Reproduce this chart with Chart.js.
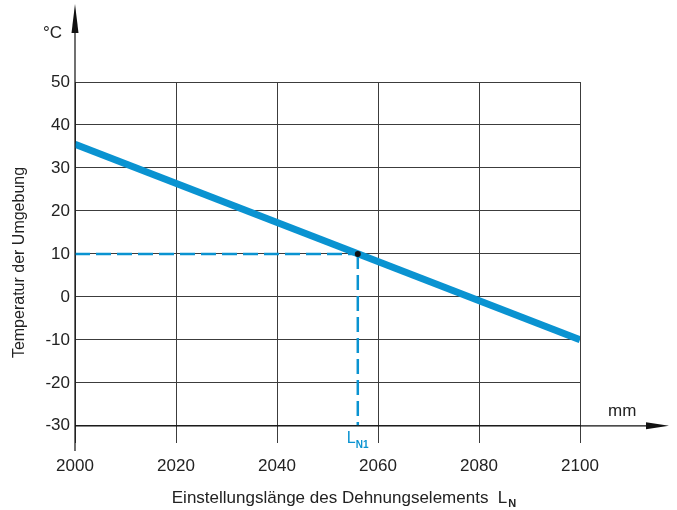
<!DOCTYPE html>
<html>
<head>
<meta charset="utf-8">
<script src="https://cdn.jsdelivr.net/npm/chart.js@4"></script>
<style>
  html, body { margin: 0; padding: 0; background: #fff; }
  #wrap { width: 677px; height: 510px; }
</style>
</head>
<body>
<div id="wrap"><canvas id="myChart" width="677" height="510"></canvas></div>
<script>
// values
const lengths = [2000, 2100];          // mm
const temps = [35.5, -10];             // °C
const markLength = 2056;
const markTemp = 10;
const xTicks = [2000, 2020, 2040, 2060, 2080, 2100];
const yTicks = [-30, -20, -10, 0, 10, 20, 30, 40, 50];
const yMin = -34, yMax = 50;

const blue = '#0a93d1';
const gridColor = '#3c3c3c';
const font = '"Liberation Sans", Arial, sans-serif';

// arrows, extra labels, subscript title
const extras = {
    id: 'extras',
    afterDraw(chart) {
        const ctx = chart.ctx;
        const x = chart.scales.x, y = chart.scales.y;
        const x0 = x.getPixelForValue(xTicks[0]);
        const yBase = y.getPixelForValue(yTicks[0]);
        ctx.save();
        ctx.strokeStyle = '#111';
        ctx.fillStyle = '#111';
        ctx.lineWidth = 1.2;
        // y axis with arrow
        ctx.beginPath();
        ctx.moveTo(x0, chart.chartArea.bottom + 8);
        ctx.lineTo(x0, 20);
        ctx.stroke();
        ctx.beginPath();
        ctx.moveTo(x0, 4);
        ctx.lineTo(x0 - 3.5, 33);
        ctx.lineTo(x0 + 3.5, 33);
        ctx.closePath();
        ctx.fill();
        // x axis (at -30) with arrow
        ctx.beginPath();
        ctx.moveTo(x0, yBase);
        ctx.lineTo(655, yBase);
        ctx.stroke();
        ctx.beginPath();
        ctx.moveTo(669, yBase);
        ctx.lineTo(646, yBase - 3.5);
        ctx.lineTo(646, yBase + 3.5);
        ctx.closePath();
        ctx.fill();

        ctx.fillStyle = '#222';
        ctx.font = '17px ' + font;
        ctx.textBaseline = 'alphabetic';
        ctx.textAlign = 'left';
        ctx.fillText('°C', 43, 38);
        ctx.fillText('mm', 608, 416);

        // x title with subscript
        const main = 'Einstellungslänge des Dehnungselements  L';
        const w = ctx.measureText(main).width;
        ctx.font = 'bold 11px ' + font;
        const ws = ctx.measureText('N').width;
        const tx = (x0 + x.getPixelForValue(2100)) / 2 + 16 - (w + ws) / 2;
        ctx.font = '17px ' + font;
        ctx.fillText(main, tx, 503);
        ctx.font = 'bold 11px ' + font;
        ctx.fillText('N', tx + w + 1, 507);

        // L_N1 marker label
        const mx = x.getPixelForValue(markLength);
        ctx.fillStyle = blue;
        ctx.font = '16px ' + font;
        ctx.fillText('L', mx - 11, 443);
        ctx.font = 'bold 10px ' + font;
        ctx.fillText('N1', mx - 2, 448);
        ctx.restore();
    }
};

new Chart(document.getElementById('myChart').getContext('2d'), {
    type: 'line',
    data: {
        datasets: [
            {
                data: lengths.map((v, i) => ({ x: v, y: temps[i] })),
                borderColor: blue,
                borderWidth: 7,
                borderCapStyle: 'butt',
                pointRadius: 0,
                order: 3,
            },
            {
                data: [{ x: lengths[0], y: markTemp }, { x: markLength, y: markTemp }],
                borderColor: blue,
                borderWidth: 2.5,
                borderDash: [15, 6],
                pointRadius: 0,
                order: 2,
            },
            {
                data: [{ x: markLength, y: markTemp }, { x: markLength, y: yTicks[0] }],
                borderColor: blue,
                borderWidth: 2.5,
                borderDash: [15, 6],
                pointRadius: 0,
                order: 2,
            },
            {
                data: [{ x: markLength, y: markTemp }],
                showLine: false,
                pointRadius: 3,
                pointBackgroundColor: '#111',
                pointBorderWidth: 0,
                order: 1,
            },
        ],
    },
    options: {
        responsive: false,
        animation: false,
        layout: { padding: { top: 82, right: 97, left: 0, bottom: 0 } },
        plugins: { legend: { display: false }, tooltip: { enabled: false } },
        scales: {
            x: {
                type: 'linear',
                min: 2000,
                max: 2100,
                afterBuildTicks: (s) => { s.ticks = xTicks.map(v => ({ value: v })); },
                afterFit: (s) => { s.height = 67; },
                grid: { color: gridColor, lineWidth: 1, drawTicks: false },
                border: { display: false },
                ticks: { color: '#222', font: { size: 17, family: font }, padding: 13, maxRotation: 0,
                         callback: (v) => String(v) },
            },
            y: {
                min: yMin,
                max: yMax,
                afterBuildTicks: (s) => { s.ticks = yTicks.map(v => ({ value: v })); },
                afterFit: (s) => { s.width = 75; },
                grid: { color: gridColor, lineWidth: 1, drawTicks: false },
                border: { display: false },
                ticks: { color: '#222', font: { size: 17, family: font }, padding: 5 },
                title: {
                    display: true,
                    text: 'Temperatur der Umgebung',
                    color: '#222',
                    font: { size: 16, family: font },
                    padding: { top: 10, bottom: 0 },
                },
            },
        },
    },
    plugins: [extras],
});
</script>
</body>
</html>
